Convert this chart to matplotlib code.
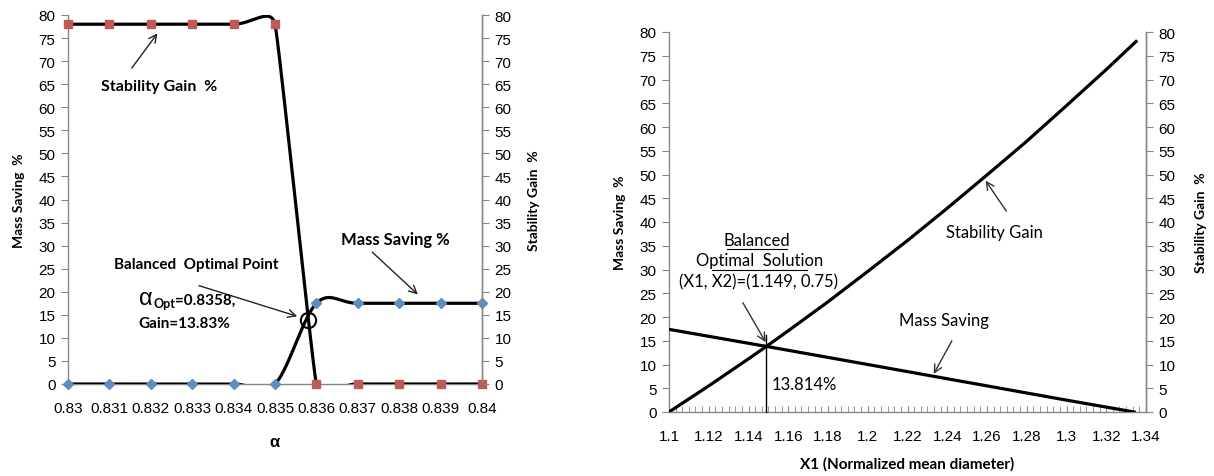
import numpy as np
import matplotlib
matplotlib.use('Agg')
import matplotlib.pyplot as plt
from matplotlib.ticker import MultipleLocator
from matplotlib.transforms import offset_copy

plt.rcParams['font.family'] = ['Liberation Sans', 'DejaVu Sans']

# ---- left chart data (alpha sweep) ----
alpha = [0.830, 0.831, 0.832, 0.833, 0.834, 0.835, 0.836, 0.837, 0.838, 0.839, 0.840]
mass_saving_a = [0, 0, 0, 0, 0, 0, 17.5, 17.5, 17.5, 17.5, 17.5]
stability_a = [78, 78, 78, 78, 78, 78, 0, 0, 0, 0, 0]
alpha_opt = 0.8358
gain_opt = 13.83

# ---- right chart data (X1 sweep) ----
x1 = [1.100, 1.120, 1.140, 1.149, 1.160, 1.180, 1.200, 1.220, 1.240, 1.260, 1.280, 1.300, 1.320, 1.335]
stability_x = [0, 5.5, 11.2, 13.81, 17.1, 23.2, 29.6, 36.1, 42.9, 49.9, 57.0, 64.5, 72.1, 78.0]
x1_ms = [1.100, 1.149, 1.200, 1.260, 1.300, 1.334]
mass_saving_x = [17.4, 13.81, 10.0, 5.5, 2.5, 0]
x1_opt = 1.149
ms_opt = 13.814

LABEL_FONT = ['Lato', 'DejaVu Sans']
GRAY = '#868686'


def smooth_line(ax, xs, ys, k=0.45, n=40):
    # excel-like smoothed line, built in screen space
    pts = ax.transData.transform(np.column_stack([xs, ys]))
    m = len(pts)
    seglen = np.hypot(*(pts[1:] - pts[:-1]).T)
    tang, reach = [], []
    for i in range(m):
        d = pts[min(i + 1, m - 1)] - pts[max(i - 1, 0)]
        tang.append(d / np.hypot(*d))
        near = seglen[max(i - 1, 0):min(i + 1, m - 1)]
        reach.append(k * near.min())
    out = [pts[0]]
    t = np.linspace(0, 1, n)[1:, None]
    for i in range(m - 1):
        p0, p3 = pts[i], pts[i + 1]
        p1 = p0 + tang[i] * reach[i]
        p2 = p3 - tang[i + 1] * reach[i + 1]
        seg = (1 - t) ** 3 * p0 + 3 * (1 - t) ** 2 * t * p1 + 3 * (1 - t) * t ** 2 * p2 + t ** 3 * p3
        out.extend(seg)
    out = ax.transData.inverted().transform(np.array(out))
    return out[:, 0], out[:, 1]


def style_axes(ax):
    ax.spines['top'].set_visible(False)
    for s in ['left', 'right', 'bottom']:
        ax.spines[s].set_color(GRAY)
        ax.spines[s].set_linewidth(1.0)
    ax.tick_params(axis='y', which='major', direction='out', length=5, color=GRAY,
                   labelsize=11, pad=4)


fig = plt.figure(figsize=(12.14, 4.77), dpi=100)
W, H = 1214, 477

# ================= left chart =================
ax1 = fig.add_axes([68 / W, (H - 385) / H, (482 - 68) / W, (385 - 16) / H])
ax1.set_xlim(0.83, 0.84)
ax1.set_ylim(0, 80)
style_axes(ax1)
ax1.yaxis.set_major_locator(MultipleLocator(5))
ax1.set_xticks(alpha)
ax1.set_xticklabels(['0.83', '0.831', '0.832', '0.833', '0.834', '0.835',
                     '0.836', '0.837', '0.838', '0.839', '0.84'])
ax1.tick_params(axis='x', length=0, labelsize=11, pad=12)

ax1r = ax1.twinx()
ax1r.set_ylim(0, 80)
ax1r.yaxis.set_major_locator(MultipleLocator(5))
style_axes(ax1r)
ax1r.spines['left'].set_visible(False)
ax1r.spines['bottom'].set_visible(False)

sx, sy = smooth_line(ax1, alpha, stability_a)
ax1.plot(sx, sy, color='black', lw=2.3, zorder=3)
mx, my = smooth_line(ax1, alpha, mass_saving_a)
ax1.plot(mx, my, color='black', lw=2.3, zorder=3)
ax1.plot(alpha, stability_a, ls='none', marker='s', ms=6, color='#BE5B58', zorder=4, clip_on=False)
ax1.plot(alpha, mass_saving_a, ls='none', marker='D', ms=5, color='#5F8DC0', zorder=4, clip_on=False)
ax1.plot([alpha_opt], [gain_opt], ls='none', marker='o', ms=11, mfc='none', mec='black', mew=1.5, zorder=5)

ax1.set_ylabel('Mass Saving  %', fontsize=10, fontweight='bold', family=LABEL_FONT, labelpad=10)
ax1r.set_ylabel('Stability Gain  %', fontsize=10, fontweight='bold', family=LABEL_FONT, labelpad=12)
ax1.set_xlabel('α', fontsize=12, fontweight='bold', labelpad=14)

arrow = dict(arrowstyle='->', color='#222222', lw=1.0, mutation_scale=14)
ax1.annotate('', xy=(0.8322, 76.5), xytext=(0.8315, 68), arrowprops=arrow)
ax1.text(0.8308, 64.5, 'Stability Gain  %', fontsize=11.5, fontweight='bold', family=LABEL_FONT,
         ha='left', va='center')
ax1.annotate('', xy=(0.8385, 19), xytext=(0.8373, 29), arrowprops=arrow)
ax1.text(0.8366, 31.5, 'Mass Saving %', fontsize=12, fontweight='bold', family=LABEL_FONT,
         ha='left', va='center')
ax1.annotate('', xy=(0.8356, 14.5), xytext=(0.8331, 21.5), arrowprops=arrow)
ax1.text(0.8311, 26, 'Balanced  Optimal Point', fontsize=11, fontweight='bold', family=LABEL_FONT,
         ha='left', va='center')

# alpha_Opt=0.8358, written piece by piece, each part starting where the last ended
fig.canvas.draw()
renderer = fig.canvas.get_renderer()
t_a = ax1.text(0.83170, 17.3, r'$\mathregular{\alpha}$', fontsize=17, ha='left', va='baseline')
t_a_bb = t_a.get_window_extent(renderer)
x_next = ax1.transData.inverted().transform((t_a_bb.x1, 0))[0]
t_o = ax1.text(x_next, 16.6, 'Opt', fontsize=9, fontweight='bold', family=LABEL_FONT,
               ha='left', va='baseline')
t_o_bb = t_o.get_window_extent(renderer)
x_next = ax1.transData.inverted().transform((t_o_bb.x1, 0))[0]
ax1.text(x_next, 17.3, '=0.8358,', fontsize=11, fontweight='bold', family=LABEL_FONT,
         ha='left', va='baseline')
ax1.text(0.8317, 13.2, 'Gain=13.83%', fontsize=11, fontweight='bold', family=LABEL_FONT, ha='left', va='center')

# ================= right chart =================
ax2 = fig.add_axes([669 / W, (H - 413) / H, (1146 - 669) / W, (413 - 33) / H])
ax2.set_xlim(1.1, 1.34)
ax2.set_ylim(0, 80)
style_axes(ax2)
ax2.yaxis.set_major_locator(MultipleLocator(5))
ax2.xaxis.set_minor_locator(MultipleLocator(0.02 / 6))
ax2.set_xticks(np.arange(1.10, 1.3401, 0.02))
ax2.set_xticklabels(['1.1', '1.12', '1.14', '1.16', '1.18', '1.2', '1.22', '1.24',
                     '1.26', '1.28', '1.3', '1.32', '1.34'])
ax2.tick_params(axis='x', which='both', direction='in', length=4, color=GRAY, labelsize=11, pad=12)

ax2r = ax2.twinx()
ax2r.set_ylim(0, 80)
ax2r.yaxis.set_major_locator(MultipleLocator(5))
style_axes(ax2r)
ax2r.spines['left'].set_visible(False)
ax2r.spines['bottom'].set_visible(False)

ax2.plot(x1, stability_x, color='black', lw=2.3, zorder=3)
ax2.plot(x1_ms, mass_saving_x, color='black', lw=2.3, zorder=3)
ax2.plot([x1_opt, x1_opt], [0, 16.2], color='black', lw=1.0, zorder=3, clip_on=False)

ax2.set_ylabel('Mass Saving  %', fontsize=10, fontweight='bold', family=LABEL_FONT, labelpad=10)
ax2r.set_ylabel('Stability Gain  %', fontsize=10, fontweight='bold', family=LABEL_FONT, labelpad=14)
ax2.set_xlabel('X1 (Normalized mean diameter)', fontsize=11, fontweight='bold', family=LABEL_FONT,
               labelpad=10)

arrow2 = dict(arrowstyle='->', color='#333333', lw=1.0, mutation_scale=14)
ax2.text(1.1440, 36.3, 'Balanced', fontsize=12, family=LABEL_FONT, ha='center', va='center')
ax2.plot([1.1292, 1.1592], [34.3, 34.3], color='black', lw=0.8)
ax2.text(1.1455, 31.9, 'Optimal  Solution', fontsize=12, family=LABEL_FONT, ha='center', va='center')
ax2.plot([1.1215, 1.1695], [29.9, 29.9], color='black', lw=0.8)
ax2.text(1.1450, 27.4, '(X1, X2)=(1.149, 0.75)', fontsize=12, family=LABEL_FONT, ha='center', va='center')
ax2.annotate('', xy=(1.1493, 14.2), xytext=(1.1365, 23.5), arrowprops=arrow2)
ax2.text(1.2635, 37.9, 'Stability Gain', fontsize=12, family=LABEL_FONT, ha='center', va='center')
ax2.annotate('', xy=(1.2585, 49.2), xytext=(1.2705, 41.8), arrowprops=arrow2)
ax2.text(1.2385, 19.4, 'Mass Saving', fontsize=12, family=LABEL_FONT, ha='center', va='center')
ax2.annotate('', xy=(1.2325, 7.5), xytext=(1.2430, 15.5), arrowprops=arrow2)
ax2.text(1.1515, 5.9, '13.814%', fontsize=12, family=LABEL_FONT, ha='left', va='center')

fig.savefig('out.png', dpi=100)
